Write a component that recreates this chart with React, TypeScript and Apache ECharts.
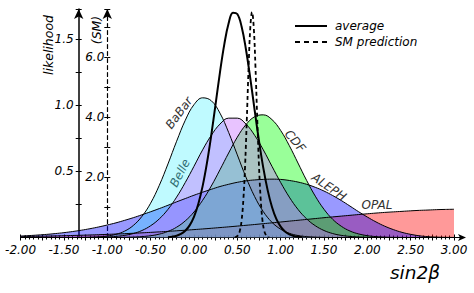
import React, { useEffect, useRef } from "react";
import * as echarts from "echarts";

// grid of sin2beta values shared by the experiment curves
const xs = [
  -2.0, -1.9, -1.8, -1.7, -1.6, -1.5, -1.4, -1.3, -1.2, -1.1, -1.0, -0.9, -0.8, -0.7, -0.6, -0.5, -0.4,
  -0.3, -0.2, -0.1, 0.0, 0.1, 0.2, 0.3, 0.4, 0.5, 0.6, 0.7, 0.8, 0.9, 1.0, 1.1, 1.2, 1.3, 1.4, 1.5, 1.6,
  1.7, 1.8, 1.9, 2.0, 2.1, 2.2, 2.3, 2.4, 2.5, 2.6, 2.7, 2.8, 2.9, 3.0,
];
const opal = [
  0.0073, 0.0083, 0.0094, 0.0107, 0.0121, 0.0136, 0.0153, 0.0171, 0.0191, 0.0213, 0.0237, 0.0263, 0.0291,
  0.0321, 0.0353, 0.0388, 0.0426, 0.0465, 0.0507, 0.0551, 0.0598, 0.0647, 0.0698, 0.0752, 0.0806, 0.0864,
  0.0924, 0.0984, 0.1047, 0.111, 0.1174, 0.124, 0.1304, 0.137, 0.1434, 0.15, 0.156, 0.162, 0.168, 0.174,
  0.1795, 0.185, 0.19, 0.194, 0.198, 0.202, 0.2055, 0.208, 0.211, 0.2126, 0.214,
];
const aleph = [
  0.0113, 0.0146, 0.0187, 0.0236, 0.0296, 0.0367, 0.0452, 0.0551, 0.0666, 0.0798, 0.0948, 0.111, 0.13, 0.15,
  0.172, 0.195, 0.219, 0.244, 0.27, 0.295, 0.32, 0.343, 0.365, 0.386, 0.403, 0.418, 0.429, 0.436, 0.44, 0.442,
  0.44, 0.432, 0.42, 0.403, 0.38, 0.352, 0.318, 0.28, 0.238, 0.195, 0.155, 0.118, 0.086, 0.06, 0.039, 0.024,
  0.013, 0.0065, 0.003, 0.0012, 0.0004,
];
const cdf = [
  0, 0, 0, 0, 0, 0, 0, 0, 0, 0, 0, 0, 0.0015, 0.0033, 0.0068, 0.0135, 0.0255, 0.046, 0.078, 0.126, 0.193,
  0.282, 0.39, 0.513, 0.64, 0.76, 0.855, 0.915, 0.929, 0.893, 0.811, 0.696, 0.564, 0.432, 0.313, 0.214, 0.138,
  0.085, 0.049, 0.027, 0.014, 0.0067, 0.0031, 0.0013, 0.0005, 0, 0, 0, 0, 0, 0,
];
const belle = [
  0, 0, 0, 0, 0, 0, 0, 0, 0.0008, 0.0018, 0.004, 0.0082, 0.016, 0.03, 0.053, 0.089, 0.141, 0.213, 0.306,
  0.417, 0.539, 0.664, 0.774, 0.859, 0.904, 0.904, 0.859, 0.774, 0.664, 0.539, 0.417, 0.306, 0.213, 0.141,
  0.089, 0.053, 0.03, 0.016, 0.0082, 0.004, 0.0018, 0.0008, 0, 0, 0, 0, 0, 0, 0, 0, 0,
];
const babar = [
  0, 0, 0, 0, 0, 0, 0, 0.0007, 0.0018, 0.0046, 0.011, 0.024, 0.048, 0.091, 0.16, 0.26, 0.395, 0.557, 0.729,
  0.888, 1.006, 1.058, 1.036, 0.942, 0.796, 0.626, 0.457, 0.31, 0.196, 0.115, 0.063, 0.032, 0.015, 0.0066,
  0.0027, 0.001, 0, 0, 0, 0, 0, 0, 0, 0, 0, 0, 0, 0, 0, 0, 0,
];
// world average
const avgX = [
  -0.3, -0.25, -0.2, -0.15, -0.1, -0.05, 0.0, 0.05, 0.1, 0.15, 0.2, 0.25, 0.3, 0.35, 0.4, 0.45, 0.5, 0.55,
  0.6, 0.65, 0.7, 0.75, 0.8, 0.85, 0.9, 0.95, 1.0, 1.05, 1.1, 1.15, 1.2, 1.25,
];
const avgY = [
  0.0028, 0.0063, 0.0133, 0.0268, 0.051, 0.092, 0.157, 0.254, 0.389, 0.565, 0.777, 1.013, 1.251, 1.463,
  1.622, 1.703, 1.693, 1.596, 1.424, 1.205, 0.965, 0.733, 0.527, 0.359, 0.231, 0.141, 0.082, 0.045, 0.0234,
  0.0115, 0.0054, 0.0024,
];
// SM prediction (right-hand "(SM)" scale)
const smX = [
  0.47, 0.49, 0.51, 0.53, 0.55, 0.57, 0.59, 0.61, 0.63, 0.65, 0.67, 0.69, 0.71, 0.73, 0.75, 0.77, 0.79, 0.81,
  0.83, 0.85, 0.87,
];
const smY = [
  0.006, 0.0235, 0.079, 0.229, 0.578, 1.265, 2.4, 3.95, 5.64, 6.98, 7.5, 6.98, 5.64, 3.95, 2.4, 1.265, 0.578,
  0.229, 0.079, 0.0235, 0.006,
];

const xLabels = ["-2.00", "-1.50", "-1.00", "-0.50", "0.00", "0.50", "1.00", "1.50", "2.00", "2.50", "3.00"];
const likeLabels = ["0.5", "1.0", "1.5"];
const smLabels = ["2.0", "4.0", "6.0"];

const FONT = "DejaVu Sans";

// drawing order: OPAL, ALEPH, CDF, BaBar, Belle
const curves = [
  { name: "OPAL", data: opal, color: "rgba(255,0,0,0.4)" },
  { name: "ALEPH", data: aleph, color: "rgba(0,0,255,0.4)" },
  { name: "CDF", data: cdf, color: "rgba(0,255,0,0.4)" },
  { name: "BaBar", data: babar, color: "rgba(42,238,255,0.3)" },
  { name: "Belle", data: belle, color: "rgba(197,105,255,0.4)" },
];

export default function App() {
  const ref = useRef<HTMLDivElement>(null);
  useEffect(() => {
    document.body.style.margin = "0";
    const chart = echarts.init(ref.current!, null, { renderer: "svg" });
    const areaSeries: any[] = curves.map((c) => ({
      type: "line",
      name: c.name + "-fill",
      data: xs.map((x, i) => [x, c.data[i]]),
      smooth: 0.4,
      symbol: "none",
      lineStyle: { width: 0 },
      areaStyle: { color: c.color, opacity: 1 },
      z: 2,
    }));
    const lineSeries: any[] = curves.map((c) => ({
      type: "line",
      name: c.name,
      data: xs.map((x, i) => [x, c.data[i]]),
      smooth: 0.4,
      symbol: "none",
      lineStyle: { width: 1, color: "#000" },
      z: 3,
    }));
    const yLabel = (list: string[]) => (v: number) => {
      const s = v.toFixed(1);
      return list.includes(s) && Math.abs(v - parseFloat(s)) < 1e-6 ? s : "";
    };
    const tickStyle = { color: "#000", width: 1 };
    const xBase = { type: "value", min: -2, max: 3, interval: 0.25, position: "bottom", splitLine: { show: false } };
    const likeBase = { type: "value", min: 0, max: 1.73, interval: 0.25, position: "left", offset: -58.1, splitLine: { show: false } };
    const smBase = { type: "value", min: 0, max: 7.6, interval: 1, position: "left", offset: -86.7, splitLine: { show: false } };
    const ghost = {
      axisLine: { show: false, onZero: false },
      axisLabel: { show: false },
      axisTick: { show: true, inside: true, length: 3, lineStyle: tickStyle },
    };
    const option: any = {
      animation: false,
      grid: { left: 20.6, right: 20, top: 9.1, bottom: 55.5 },
      xAxis: [
        {
          ...xBase,
          axisLine: { onZero: false, lineStyle: { color: "#000", width: 1 } },
          axisTick: { length: 3, lineStyle: tickStyle },
          minorTick: { show: true, splitNumber: 5, length: 2, lineStyle: tickStyle },
          axisLabel: {
            margin: 6,
            fontFamily: FONT,
            fontStyle: "italic",
            fontSize: 12,
            color: "#000",
            formatter: (v: number) => {
              const s = v.toFixed(2);
              return xLabels.includes(s) && Math.abs(v - parseFloat(s)) < 1e-6 ? s : "";
            },
          },
        },
        { ...xBase, ...ghost, minorTick: { show: true, splitNumber: 5, length: 2, lineStyle: tickStyle } },
      ],
      yAxis: [
        {
          ...likeBase,
          axisLine: { show: true, onZero: false, symbol: ["none", "arrow"], symbolSize: [7, 10], lineStyle: { color: "#000", width: 1.5 } },
          axisTick: { show: true, length: 3, lineStyle: tickStyle },
          axisLabel: { margin: 5, fontFamily: FONT, fontStyle: "italic", fontSize: 12, color: "#000", formatter: yLabel(likeLabels) },
        },
        {
          ...smBase,
          axisLine: { show: true, onZero: false, symbol: ["none", "arrow"], symbolSize: [7, 10], lineStyle: { color: "#000", width: 1.2, type: [4, 3] } },
          axisTick: { show: true, length: 3, lineStyle: tickStyle },
          axisLabel: { margin: 3, fontFamily: FONT, fontStyle: "italic", fontSize: 12, color: "#000", formatter: yLabel(smLabels) },
        },
        { ...likeBase, ...ghost },
        { ...smBase, ...ghost },
      ],
      series: [
        ...areaSeries,
        ...lineSeries,
        {
          type: "line",
          name: "average",
          data: avgX.map((x, i) => [x, avgY[i]]),
          smooth: 0.4,
          symbol: "none",
          lineStyle: { width: 2, color: "#000" },
          z: 4,
        },
        {
          type: "line",
          name: "SM prediction",
          yAxisIndex: 1,
          data: smX.map((x, i) => [x, smY[i]]),
          smooth: 0.4,
          symbol: "none",
          lineStyle: { width: 1.8, color: "#000", type: [4, 3] },
          z: 4,
        },
      ],
    };
    chart.setOption(option);
    const [x3, y0] = chart.convertToPixel({ xAxisIndex: 0, yAxisIndex: 0 }, [3, 0]) as number[];
    const labelStyle = { fontFamily: FONT, fontStyle: "italic", fontSize: 12, fill: "#333" };
    chart.setOption({
      graphic: [
        { type: "line", shape: { x1: x3, y1: y0, x2: x3 + 8, y2: y0 }, style: { stroke: "#000", lineWidth: 1 } },
        { type: "polygon", shape: { points: [[x3 + 12, y0], [x3 + 4, y0 - 3.5], [x3 + 6, y0], [x3 + 4, y0 + 3.5]] }, style: { fill: "#000" } },
        { type: "text", x: 48, y: 45, rotation: Math.PI / 2, style: { text: "likelihood", fontFamily: FONT, fontStyle: "italic", fontSize: 12.5, fill: "#000", align: "center", verticalAlign: "middle" } },
        { type: "text", x: 96, y: 30, rotation: Math.PI / 2, style: { text: "(SM)", fontFamily: FONT, fontStyle: "italic", fontSize: 12.5, fill: "#000", align: "center", verticalAlign: "middle" } },
        { type: "text", x: 415, y: 272, style: { text: "sin2β", fontFamily: FONT, fontStyle: "italic", fontSize: 18.5, fill: "#000", align: "center", verticalAlign: "middle" } },
        { type: "line", shape: { x1: 295, y1: 26, x2: 327, y2: 26 }, style: { stroke: "#000", lineWidth: 2 } },
        { type: "line", shape: { x1: 295, y1: 42, x2: 327, y2: 42 }, style: { stroke: "#000", lineWidth: 2, lineDash: [5, 4] } },
        { type: "text", x: 335, y: 26, style: { text: "average", fontFamily: FONT, fontStyle: "italic", fontSize: 12, fill: "#000", verticalAlign: "middle" } },
        { type: "text", x: 335, y: 42, style: { text: "SM prediction", fontFamily: FONT, fontStyle: "italic", fontSize: 12, fill: "#000", verticalAlign: "middle" } },
        { type: "text", x: 179, y: 113, rotation: 0.93, style: { ...labelStyle, text: "BaBar", align: "center", verticalAlign: "middle" } },
        { type: "text", x: 180, y: 173, rotation: 1.1, style: { ...labelStyle, text: "Belle", align: "center", verticalAlign: "middle" } },
        { type: "text", x: 295, y: 141, rotation: -0.87, style: { ...labelStyle, text: "CDF", align: "center", verticalAlign: "middle" } },
        { type: "text", x: 329, y: 187, rotation: -0.6, style: { ...labelStyle, text: "ALEPH", align: "center", verticalAlign: "middle" } },
        { type: "text", x: 377, y: 205, rotation: 0, style: { ...labelStyle, text: "OPAL", align: "center", verticalAlign: "middle" } },
      ],
    });
    return () => chart.dispose();
  }, []);
  return <div ref={ref} style={{ width: 474, height: 293 }} />;
}
